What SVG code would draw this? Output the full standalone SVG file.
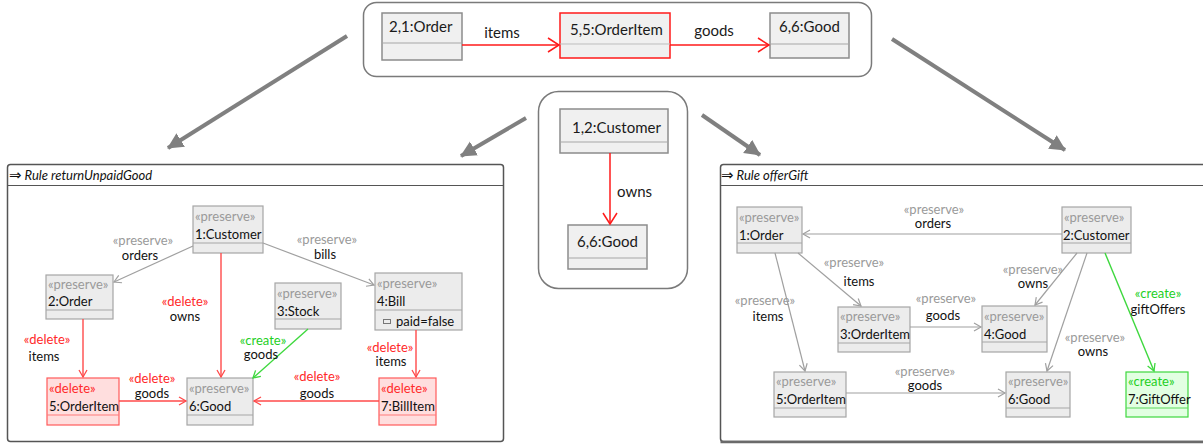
<svg xmlns="http://www.w3.org/2000/svg" width="1203" height="444" viewBox="0 0 1203 444">
  <style>
    .panel { fill: #ffffff; stroke: #7a7a7a; stroke-width: 1.5; }
    .frame { fill: #ffffff; stroke: #555555; stroke-width: 1.5; }
    .obj { fill: #f0f0f0; stroke: #8c8c8c; stroke-width: 1.5; }
    .obj-red { fill: #f0f0f0; stroke: #ff1a1a; stroke-width: 1.5; }
    .node { fill: #ececec; stroke: #a6a6a6; stroke-width: 1.2; }
    .node-del { fill: #ffdede; stroke: #ff5a5a; stroke-width: 1.2; }
    .node-new { fill: #e2ffe2; stroke: #3ed83e; stroke-width: 1.2; }
    .div { stroke: #a6a6a6; stroke-width: 1; }
    .div-del { stroke: #ff7a7a; stroke-width: 1; }
    .div-new { stroke: #5ad85a; stroke-width: 1; }
    .t-obj { font-family: Lato, "Liberation Sans", sans-serif; font-size: 15px; fill: #1a1a1a; }
    .t-title { font-family: Lato, "Liberation Sans", sans-serif; font-size: 13px; font-style: italic; fill: #111111; }
    .t-arrow { font-family: "DejaVu Sans", sans-serif; font-size: 15px; font-style: normal; }
    .t-name { font-family: Lato, "Liberation Sans", sans-serif; font-size: 13px; fill: #111111; }
    .t-pre { font-family: Lato, "Liberation Sans", sans-serif; font-size: 13px; fill: #9a9a9a; }
    .t-del { font-family: Lato, "Liberation Sans", sans-serif; font-size: 13px; fill: #ff2a2a; }
    .t-new { font-family: Lato, "Liberation Sans", sans-serif; font-size: 13px; fill: #1fcf1f; }
    .mid { text-anchor: middle; }
    .e-top { stroke: #ff1a1a; stroke-width: 1.5; fill: none; marker-end: url(#openRedBig); }
    .e-pre { stroke: #a0a0a0; stroke-width: 1.2; fill: none; marker-end: url(#openGray); }
    .e-del { stroke: #ff4a4a; stroke-width: 1.4; fill: none; marker-end: url(#openRed); }
    .e-new { stroke: #3ed83e; stroke-width: 1.4; fill: none; marker-end: url(#openGreen); }
    .big { stroke: #808080; stroke-width: 4; fill: none; marker-end: url(#bigHead); }
  </style>
  <defs>
    <marker id="openRedBig" markerUnits="userSpaceOnUse" markerWidth="14" markerHeight="16" refX="12" refY="8" orient="auto">
      <path d="M1,1 L12,8 L1,15" fill="none" stroke="#ff1a1a" stroke-width="1.5"/>
    </marker>
    <marker id="openGray" markerUnits="userSpaceOnUse" markerWidth="10" markerHeight="10" refX="8" refY="5" orient="auto">
      <path d="M1,1 L8,5 L1,9" fill="none" stroke="#a0a0a0" stroke-width="1.2"/>
    </marker>
    <marker id="openRed" markerUnits="userSpaceOnUse" markerWidth="10" markerHeight="10" refX="8" refY="5" orient="auto">
      <path d="M1,1 L8,5 L1,9" fill="none" stroke="#ff4a4a" stroke-width="1.3"/>
    </marker>
    <marker id="openGreen" markerUnits="userSpaceOnUse" markerWidth="10" markerHeight="10" refX="8" refY="5" orient="auto">
      <path d="M1,1 L8,5 L1,9" fill="none" stroke="#3ed83e" stroke-width="1.3"/>
    </marker>
    <marker id="bigHead" markerUnits="userSpaceOnUse" markerWidth="18" markerHeight="18" refX="15" refY="8" orient="auto">
      <path d="M0,0 L16,8 L0,16 z" fill="#808080"/>
    </marker>
  </defs>

  <!-- source pattern: Order -> OrderItem -> Good -->
  <g id="pattern-top">
    <rect class="panel" x="363.5" y="2.5" width="508" height="74" rx="13"/>
  </g>
  <g id="top-order">
    <rect class="obj" x="382" y="13" width="80" height="47"/>
    <line class="div" x1="382" y1="43" x2="462" y2="43" stroke="#8c8c8c"/>
    <text class="t-obj" x="389" y="32">2,1:Order</text>
  </g>
  <g id="top-orderitem">
    <rect class="obj-red" x="560" y="13" width="110" height="45"/>
    <line x1="560" y1="44" x2="670" y2="44" stroke="#bdbdbd" stroke-width="1"/>
    <text class="t-obj" x="570" y="35">5,5:OrderItem</text>
  </g>
  <g id="top-good">
    <rect class="obj" x="770" y="13" width="79" height="45"/>
    <line class="div" x1="770" y1="44" x2="849" y2="44"/>
    <text class="t-obj" x="779" y="32">6,6:Good</text>
  </g>

  <!-- source pattern: Customer owns Good -->
  <g id="pattern-mid">
    <rect class="panel" x="538.5" y="91.5" width="149" height="197" rx="20"/>
  </g>
  <g id="mid-customer">
    <rect class="obj" x="560" y="109" width="108" height="44"/>
    <line class="div" x1="560" y1="142" x2="668" y2="142"/>
    <text class="t-obj" x="572" y="133">1,2:Customer</text>
  </g>
  <g id="mid-good">
    <rect class="obj" x="568" y="225" width="79" height="44"/>
    <line class="div" x1="568" y1="258" x2="647" y2="258"/>
    <text class="t-obj" x="577" y="247">6,6:Good</text>
  </g>

  <!-- rule returnUnpaidGood -->
  <g id="rule-returnUnpaidGood">
    <rect class="frame" x="7.5" y="164.5" width="496" height="277" rx="3"/>
    <line x1="7.5" y1="185.5" x2="503.5" y2="185.5" stroke="#555555" stroke-width="1.2"/>
    <text class="t-title" x="9" y="180"><tspan class="t-arrow">⇒</tspan> Rule returnUnpaidGood</text>
  </g>
  <g id="r1-customer">
    <rect class="node" x="193" y="206" width="70" height="47"/>
    <line class="div" x1="193" y1="243" x2="263" y2="243"/>
    <text class="t-pre" x="195" y="221">«preserve»</text>
    <text class="t-name" x="195" y="239">1:Customer</text>
  </g>
  <g id="r1-order">
    <rect class="node" x="46" y="275" width="67" height="44"/>
    <line class="div" x1="46" y1="310" x2="113" y2="310"/>
    <text class="t-pre" x="48" y="289">«preserve»</text>
    <text class="t-name" x="48" y="306">2:Order</text>
  </g>
  <g id="r1-stock">
    <rect class="node" x="275" y="283" width="66" height="46"/>
    <line class="div" x1="275" y1="319" x2="341" y2="319"/>
    <text class="t-pre" x="277" y="298">«preserve»</text>
    <text class="t-name" x="277" y="316">3:Stock</text>
  </g>
  <g id="r1-bill">
    <rect class="node" x="375" y="273" width="87" height="57"/>
    <line class="div" x1="375" y1="310" x2="462" y2="310"/>
    <text class="t-pre" x="377" y="288">«preserve»</text>
    <text class="t-name" x="377" y="306">4:Bill</text>
    <rect x="383.5" y="319.5" width="7" height="4" fill="none" stroke="#777777" stroke-width="1"/>
    <text class="t-name" x="396" y="326">paid=false</text>
  </g>
  <g id="r1-orderitem">
    <rect class="node-del" x="47" y="378" width="72" height="47"/>
    <line class="div-del" x1="47" y1="415" x2="119" y2="415"/>
    <text class="t-del" x="49" y="393">«delete»</text>
    <text class="t-name" x="49" y="411">5:OrderItem</text>
  </g>
  <g id="r1-good">
    <rect class="node" x="187" y="378" width="66" height="47"/>
    <line class="div" x1="187" y1="415" x2="253" y2="415"/>
    <text class="t-pre" x="189" y="393">«preserve»</text>
    <text class="t-name" x="189" y="411">6:Good</text>
  </g>
  <g id="r1-billitem">
    <rect class="node-del" x="379" y="378" width="57" height="47"/>
    <line class="div-del" x1="379" y1="415" x2="436" y2="415"/>
    <text class="t-del" x="381" y="393">«delete»</text>
    <text class="t-name" x="381" y="411">7:BillItem</text>
  </g>

  <!-- rule offerGift -->
  <g id="rule-offerGift">
    <rect class="frame" x="720.5" y="164.5" width="490" height="277" rx="3"/>
    <line x1="720.5" y1="185.5" x2="1203" y2="185.5" stroke="#555555" stroke-width="1.2"/>
    <line x1="720.5" y1="442" x2="1203" y2="442" stroke="#6a6a6a" stroke-width="2.5"/>
    <text class="t-title" x="721" y="180"><tspan class="t-arrow">⇒</tspan> Rule offerGift</text>
  </g>
  <g id="r2-order">
    <rect class="node" x="737" y="207" width="65" height="46"/>
    <line class="div" x1="737" y1="243" x2="802" y2="243"/>
    <text class="t-pre" x="739" y="222">«preserve»</text>
    <text class="t-name" x="739" y="240">1:Order</text>
  </g>
  <g id="r2-customer">
    <rect class="node" x="1062" y="207" width="69" height="46"/>
    <line class="div" x1="1062" y1="243" x2="1131" y2="243"/>
    <text class="t-pre" x="1064" y="222">«preserve»</text>
    <text class="t-name" x="1063" y="240">2:Customer</text>
  </g>
  <g id="r2-orderitem3">
    <rect class="node" x="838" y="307" width="72" height="45"/>
    <line class="div" x1="838" y1="343" x2="910" y2="343"/>
    <text class="t-pre" x="840" y="321">«preserve»</text>
    <text class="t-name" x="840" y="339">3:OrderItem</text>
  </g>
  <g id="r2-good4">
    <rect class="node" x="982" y="306" width="65" height="46"/>
    <line class="div" x1="982" y1="342" x2="1047" y2="342"/>
    <text class="t-pre" x="984" y="321">«preserve»</text>
    <text class="t-name" x="984" y="339">4:Good</text>
  </g>
  <g id="r2-orderitem5">
    <rect class="node" x="774" y="372" width="72" height="45"/>
    <line class="div" x1="774" y1="408" x2="846" y2="408"/>
    <text class="t-pre" x="776" y="386">«preserve»</text>
    <text class="t-name" x="776" y="404">5:OrderItem</text>
  </g>
  <g id="r2-good6">
    <rect class="node" x="1006" y="372" width="64" height="45"/>
    <line class="div" x1="1006" y1="408" x2="1070" y2="408"/>
    <text class="t-pre" x="1008" y="386">«preserve»</text>
    <text class="t-name" x="1008" y="404">6:Good</text>
  </g>
  <g id="r2-giftoffer">
    <rect class="node-new" x="1126" y="372" width="62" height="45"/>
    <line class="div-new" x1="1126" y1="408" x2="1188" y2="408"/>
    <text class="t-new" x="1128" y="386">«create»</text>
    <text class="t-name" x="1128" y="404">7:GiftOffer</text>
  </g>

  <!-- connectors -->
  <g id="connectors">
    <!-- transformation arrows -->
    <line class="big" x1="347" y1="36" x2="168" y2="148"/>
    <line class="big" x1="526" y1="118" x2="461" y2="156"/>
    <line class="big" x1="702" y1="115" x2="760" y2="155"/>
    <line class="big" x1="892" y1="39" x2="1065" y2="150"/>

    <!-- pattern links -->
    <line class="e-top" x1="462" y1="45" x2="559" y2="45"/>
    <text class="t-obj mid" x="502" y="38">items</text>
    <line class="e-top" x1="670" y1="45" x2="769" y2="45"/>
    <text class="t-obj mid" x="714" y="36">goods</text>
    <line class="e-top" x1="610" y1="153" x2="610" y2="224"/>
    <text class="t-obj" x="617" y="197">owns</text>

    <!-- returnUnpaidGood links -->
    <line class="e-pre" x1="193" y1="246" x2="114" y2="282"/>
    <text class="t-pre mid" x="143" y="245">«preserve»</text>
    <text class="t-name mid" x="140" y="260">orders</text>
    <line class="e-pre" x1="263" y1="243" x2="374" y2="285"/>
    <text class="t-pre mid" x="327" y="244">«preserve»</text>
    <text class="t-name mid" x="325" y="259">bills</text>
    <line class="e-del" x1="221" y1="253" x2="221" y2="377"/>
    <text class="t-del mid" x="185" y="306">«delete»</text>
    <text class="t-name mid" x="185" y="321">owns</text>
    <line class="e-del" x1="83" y1="319" x2="83" y2="377"/>
    <text class="t-del mid" x="47" y="344">«delete»</text>
    <text class="t-name mid" x="44" y="361">items</text>
    <line class="e-del" x1="119" y1="401" x2="186" y2="401"/>
    <text class="t-del mid" x="152" y="383">«delete»</text>
    <text class="t-name mid" x="152" y="398">goods</text>
    <line class="e-new" x1="308" y1="329" x2="253" y2="378"/>
    <text class="t-new mid" x="263" y="345">«create»</text>
    <text class="t-name mid" x="261" y="359">goods</text>
    <line class="e-del" x1="379" y1="401" x2="254" y2="401"/>
    <text class="t-del mid" x="317" y="381">«delete»</text>
    <text class="t-name mid" x="317" y="398">goods</text>
    <line class="e-del" x1="416" y1="330" x2="416" y2="377"/>
    <text class="t-del mid" x="390" y="352">«delete»</text>
    <text class="t-name mid" x="391" y="366">items</text>

    <!-- offerGift links -->
    <line class="e-pre" x1="1062" y1="234" x2="803" y2="234"/>
    <text class="t-pre mid" x="934" y="214">«preserve»</text>
    <text class="t-name mid" x="933" y="228">orders</text>
    <line class="e-pre" x1="798" y1="253" x2="861" y2="306"/>
    <text class="t-pre mid" x="854" y="267">«preserve»</text>
    <text class="t-name mid" x="859" y="286">items</text>
    <line class="e-pre" x1="775" y1="253" x2="805" y2="371"/>
    <text class="t-pre mid" x="765" y="305">«preserve»</text>
    <text class="t-name mid" x="768" y="321">items</text>
    <line class="e-pre" x1="910" y1="327" x2="981" y2="327"/>
    <text class="t-pre mid" x="946" y="303">«preserve»</text>
    <text class="t-name mid" x="943" y="320">goods</text>
    <line class="e-pre" x1="846" y1="393" x2="1005" y2="393"/>
    <text class="t-pre mid" x="925" y="376">«preserve»</text>
    <text class="t-name mid" x="925" y="390">goods</text>
    <line class="e-pre" x1="1077" y1="253" x2="1035" y2="305"/>
    <text class="t-pre mid" x="1033" y="274">«preserve»</text>
    <text class="t-name mid" x="1033" y="288">owns</text>
    <line class="e-pre" x1="1087" y1="253" x2="1047" y2="371"/>
    <text class="t-pre mid" x="1095" y="342">«preserve»</text>
    <text class="t-name mid" x="1093" y="356">owns</text>
    <line class="e-new" x1="1105" y1="253" x2="1154" y2="371"/>
    <text class="t-new mid" x="1158" y="298">«create»</text>
    <text class="t-name mid" x="1158" y="314">giftOffers</text>
  </g>
</svg>
